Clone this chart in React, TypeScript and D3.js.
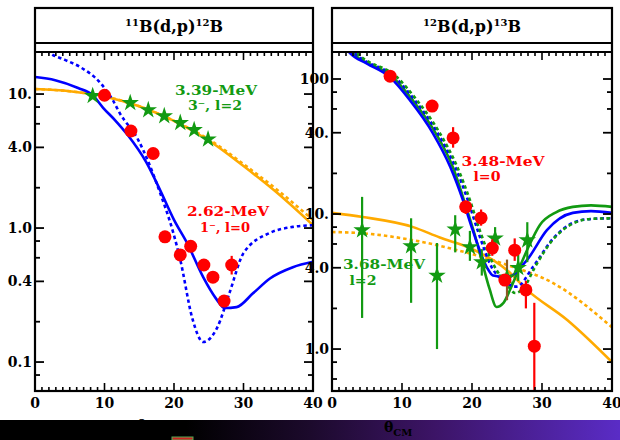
import * as d3 from "d3"

// ---- left panel: 11B(d,p)12B ----
const leftRedDeg = [10, 13.8, 17.0, 18.7, 20.9, 22.4, 24.3, 25.6, 27.2, 28.3]
const leftRedVal = [9.8, 5.3, 3.6, 0.86, 0.63, 0.73, 0.53, 0.43, 0.285, 0.53]
const leftRedLo = [9.8, 5.3, 3.6, 0.86, 0.63, 0.73, 0.53, 0.4, 0.27, 0.45]
const leftRedHi = [9.8, 5.3, 3.6, 0.86, 0.63, 0.73, 0.53, 0.43, 0.285, 0.62]

const leftGreenDeg = [8.3, 13.7, 16.3, 18.6, 20.9, 22.9, 24.9]
const leftGreenVal = [9.7, 8.6, 7.6, 6.85, 6.1, 5.4, 4.6]

const leftOrangeDeg = [0, 5, 10, 15, 20, 25, 30, 35, 40]
const leftOrangeSolid = [10.9, 10.5, 9.6, 8.1, 6.3, 4.5, 2.9, 1.8, 1.05]
const leftOrangeDotted = [10.9, 10.5, 9.6, 8.1, 6.3, 4.6, 3.0, 1.9, 1.15]

const leftBlueSolidDeg = [0, 2.9, 6.2, 8.3, 9.8, 11.5, 13.4, 16, 18, 20, 21.9, 24.2, 26, 27.3, 29, 31.4, 33.8, 37.1, 40]
const leftBlueSolidVal = [13.4, 12.7, 11.1, 9.8, 7.9, 6.4, 4.9, 3.1, 1.92, 1.15, 0.77, 0.43, 0.3, 0.253, 0.257, 0.327, 0.42, 0.51, 0.56]

const leftBlueDotDeg = [0.5, 2.2, 4.3, 6.5, 9.4, 11.2, 12.2, 14.8, 18, 19.9, 20.9, 22.7, 24.2, 26.2, 28, 30, 33.8, 37.1, 40]
const leftBlueDotVal = [25, 20.2, 18, 15.9, 12.1, 9.0, 7.2, 4.6, 1.83, 0.92, 0.58, 0.206, 0.141, 0.18, 0.33, 0.65, 0.92, 1.02, 1.05]

// ---- right panel: 12B(d,p)13B ----
const rightRedDeg = [8.3, 14.3, 17.3, 19.1, 21.3, 22.9, 24.7, 26.1, 27.7, 28.9]
const rightRedVal = [105, 63, 36.6, 11.3, 9.35, 5.6, 3.24, 5.4, 2.74, 1.05]
const rightRedLo = [105, 58, 31, 10, 8.2, 4.9, 3.0, 4.5, 2.0, 0.3]
const rightRedHi = [105, 70, 44, 12.5, 10.8, 6.5, 3.5, 6.6, 3.2, 2.2]

const rightGreenDeg = [4.3, 11.3, 15.0, 17.6, 19.7, 21.4, 23.3, 25.0, 26.6, 27.9]
const rightGreenVal = [7.6, 5.8, 3.5, 7.7, 5.7, 4.4, 6.6, 3.4, 4.0, 6.4]
const rightGreenLo = [1.7, 2.2, 1.0, 5.2, 4.5, 3.5, 5.3, 2.3, 3.2, 4.4]
const rightGreenHi = [13.4, 9.3, 6.1, 9.8, 7.5, 5.5, 8.0, 4.6, 5.0, 8.7]

const rightOrangeSolidDeg = [0, 4.4, 11.6, 15.4, 19.7, 25, 27.9, 33.6, 40]
const rightOrangeSolidVal = [10.2, 9.5, 8.0, 6.7, 5.6, 3.84, 2.73, 1.64, 0.8]
const rightOrangeDotDeg = [0, 4.4, 11.6, 17.9, 25, 31.6, 40]
const rightOrangeDotVal = [7.36, 7.2, 6.4, 5.4, 4.2, 3.08, 1.45]

const rightBlueSolidDeg = [1, 2.6, 5, 8.3, 11.1, 14.4, 16.9, 18.7, 20.1, 22.1, 23, 25, 27.9, 30.7, 34.4, 37, 40]
const rightBlueSolidVal = [200, 155, 130, 103, 70, 39.8, 22.3, 12.7, 7.6, 4.05, 3.5, 3.4, 4.6, 7.6, 10.2, 10.5, 10.2]
const rightBlueDotDeg = [1.5, 3.3, 9, 11.8, 15.1, 17.6, 19.4, 20.8, 22.8, 24.5, 26.4, 28.7, 31.5, 34.4, 37, 40]
const rightBlueDotVal = [200, 155, 103, 70, 39.8, 22.3, 12.7, 7.6, 4.05, 3.2, 2.9, 4.05, 6.5, 8.6, 9.2, 9.3]
const rightGreenSolidDeg = [1.2, 3, 8.7, 11.5, 14.8, 17.3, 19.0, 20.4, 21.5, 22.5, 23.5, 24.5, 25.5, 26.4, 28, 29.7, 32, 34.4, 37, 40]
const rightGreenSolidVal = [200, 155, 103, 70, 39.8, 22, 12, 7, 4.3, 2.8, 2.05, 2.2, 2.8, 3.6, 5.6, 8.3, 10.3, 11.3, 11.6, 11.3]
const rightGreenDotDeg = [1.8, 3.6, 9.3, 12.1, 15.4, 17.9, 19.7, 21.1, 23.1, 24.8, 26.2, 27.5, 29, 31.5, 34.4, 37, 40]
const rightGreenDotVal = [200, 155, 103, 70, 39.8, 22.3, 12.7, 7.6, 4.2, 3.1, 2.6, 2.9, 4.05, 6.4, 8.5, 9.2, 9.3]

// ---- ticks ----
const xMajor = [0, 10, 20, 30, 40]
const xMinor = d3.range(0, 41, 1)
const leftYMajor = [0.1, 0.4, 1, 4, 10]
const leftYLabels = ["0.1", "0.4", "1.0", "4.0", "10."]
const leftYMinor = [0.08, 0.2, 0.6, 0.8, 2, 6, 8]
const rightYMajor = [1, 4, 10, 40, 100]
const rightYLabels = ["1.0", "4.0", "10.", "40.", "100"]
const rightYMinor = [0.6, 0.8, 2, 6, 8, 20, 60, 80]

const RED = "#ff0000"
const GREEN = "#129a12"
const BLUE = "#0000ff"
const ORANGE = "#ffaa00"
const BROWN = "#8a5a22"
const FONT = "'DejaVu Serif', serif"

const TOP = 8
const HEAD = 43
const PTOP = 52
const PBOT = 391

const zip = (a: number[], b: number[]) => a.map((d, i) => [d, b[i]] as [number, number])

function Panel(props: any) {
  const { x, y, id, yMajor, yLabels, yMinor, title, curves, circles, stars, children } = props
  const [x0, x1] = x.range()
  const line = d3
    .line<[number, number]>()
    .x((d) => x(d[0]))
    .y((d) => y(d[1]))
    .curve(d3.curveMonotoneX)
  const star = d3.symbol(d3.symbolStar, 95)()
  return (
    <g>
      <defs>
        <clipPath id={id}>
          <rect x={x0} y={PTOP} width={x1 - x0} height={PBOT - PTOP} />
        </clipPath>
      </defs>
      <g clipPath={`url(#${id})`}>
        {curves.map((c: any, i: number) => (
          <path key={i} d={line(c.pts) || ""} fill="none" stroke={c.color} strokeWidth={2.6}
            strokeDasharray={c.dash ? "3.5,3" : undefined} />
        ))}
        {stars.map((s: any, i: number) => (
          <g key={"s" + i}>
            {s.lo !== undefined && (
              <line x1={x(s.d)} x2={x(s.d)} y1={y(s.lo)} y2={y(s.hi)} stroke={s.bar || GREEN} strokeWidth={2.2} />
            )}
            <path d={star || ""} transform={`translate(${x(s.d)},${y(s.v)})`} fill={GREEN} />
          </g>
        ))}
        {circles.map((c: any, i: number) => (
          <g key={"c" + i}>
            <line x1={x(c.d)} x2={x(c.d)} y1={y(c.lo)} y2={y(c.hi)} stroke={RED} strokeWidth={2.2} />
            <circle cx={x(c.d)} cy={y(c.v)} r={6.5} fill={RED} />
          </g>
        ))}
      </g>
      {/* frame */}
      <rect x={x0} y={TOP} width={x1 - x0} height={PBOT - TOP} fill="none" stroke="#000" strokeWidth={2.2} />
      <line x1={x0} x2={x1} y1={HEAD} y2={HEAD} stroke="#000" strokeWidth={2.2} />
      <line x1={x0} x2={x1} y1={PTOP} y2={PTOP} stroke="#000" strokeWidth={2.2} />
      {/* x ticks */}
      {xMinor.map((t) => {
        const len = xMajor.includes(t) ? 8 : 4
        return (
          <g key={"xt" + t}>
            <line x1={x(t)} x2={x(t)} y1={PBOT} y2={PBOT - len} stroke="#000" strokeWidth={1.6} />
            <line x1={x(t)} x2={x(t)} y1={PTOP} y2={PTOP + len} stroke="#000" strokeWidth={1.6} />
          </g>
        )
      })}
      {xMajor.map((t) => (
        <text key={"xl" + t} x={x(t)} y={408} textAnchor="middle" fontFamily={FONT} fontWeight="bold" fontSize={14}>
          {t}
        </text>
      ))}
      {/* y ticks */}
      {yMajor.map((t: number, i: number) => (
        <g key={"ym" + t}>
          <line x1={x0} x2={x0 + 9} y1={y(t)} y2={y(t)} stroke="#000" strokeWidth={1.8} />
          <line x1={x1} x2={x1 - 9} y1={y(t)} y2={y(t)} stroke="#000" strokeWidth={1.8} />
          <text x={x0 - 3} y={y(t) + 5} textAnchor="end" fontFamily={FONT} fontWeight="bold" fontSize={14}>
            {yLabels[i]}
          </text>
        </g>
      ))}
      {yMinor.map((t: number) => (
        <g key={"yn" + t}>
          <line x1={x0} x2={x0 + 5} y1={y(t)} y2={y(t)} stroke="#000" strokeWidth={1.8} />
          <line x1={x1} x2={x1 - 5} y1={y(t)} y2={y(t)} stroke="#000" strokeWidth={1.8} />
        </g>
      ))}
      <text x={(x0 + x1) / 2} y={32} textAnchor="middle" fontFamily={FONT} fontWeight="bold" fontSize={16}>
        <tspan fontSize={10} dy={-6}>{title[0]}</tspan>
        <tspan dy={6}>B(d,p)</tspan>
        <tspan fontSize={10} dy={-6}>{title[1]}</tspan>
        <tspan dy={6}>B</tspan>
      </text>
      {children}
    </g>
  )
}

function Label({ x, y, color, children, w }: any) {
  return (
    <text x={x} y={y} textAnchor="middle" fontFamily={FONT} fontWeight="bold" fontSize={13} fill={color}
      textLength={w} lengthAdjust="spacingAndGlyphs">
      {children}
    </text>
  )
}

export default function App() {
  const lx = d3.scaleLinear().domain([0, 40]).range([35, 313])
  const ly = d3.scaleLog().domain([0.0608, 20.6]).range([PBOT, PTOP])
  const rx = d3.scaleLinear().domain([0, 40]).range([332, 612])
  const ry = d3.scaleLog().domain([0.489, 158.5]).range([PBOT, PTOP])

  const leftCurves = [
    { pts: zip(leftOrangeDeg, leftOrangeDotted), color: ORANGE, dash: true },
    { pts: zip(leftOrangeDeg, leftOrangeSolid), color: ORANGE },
    { pts: zip(leftBlueDotDeg, leftBlueDotVal), color: BLUE, dash: true },
    { pts: zip(leftBlueSolidDeg, leftBlueSolidVal), color: BLUE },
  ]
  const leftCircles = leftRedDeg.map((d, i) => ({ d, v: leftRedVal[i], lo: leftRedLo[i], hi: leftRedHi[i] }))
  const leftStars = leftGreenDeg.map((d, i) => ({ d, v: leftGreenVal[i] }))

  const rightCurves = [
    { pts: zip(rightOrangeSolidDeg, rightOrangeSolidVal), color: ORANGE },
    { pts: zip(rightOrangeDotDeg, rightOrangeDotVal), color: ORANGE, dash: true },
    { pts: zip(rightGreenSolidDeg, rightGreenSolidVal), color: GREEN },
    { pts: zip(rightBlueSolidDeg, rightBlueSolidVal), color: BLUE },
    { pts: zip(rightBlueDotDeg, rightBlueDotVal), color: BLUE, dash: true },
    { pts: zip(rightGreenDotDeg, rightGreenDotVal), color: GREEN, dash: true },
  ]
  const rightCircles = rightRedDeg.map((d, i) => ({ d, v: rightRedVal[i], lo: rightRedLo[i], hi: rightRedHi[i] }))
  const rightStars = rightGreenDeg.map((d, i) => ({
    d, v: rightGreenVal[i], lo: rightGreenLo[i], hi: rightGreenHi[i], bar: d === 25.0 ? BROWN : GREEN,
  }))

  return (
    <svg width={620} height={440} style={{ position: "absolute", left: 0, top: 0, background: "#fff" }}>
      <defs>
        <linearGradient id="band" x1="0" x2="1" y1="0" y2="0">
          <stop offset="0" stopColor="#000" />
          <stop offset="0.3" stopColor="#000" />
          <stop offset="0.5" stopColor="#1c0a2c" />
          <stop offset="0.7" stopColor="#3c1466" />
          <stop offset="1" stopColor="#5a2cc6" />
        </linearGradient>
      </defs>
      <Panel x={lx} y={ly} id="clipL" yMajor={leftYMajor} yLabels={leftYLabels} yMinor={leftYMinor}
        title={["11", "12"]} curves={leftCurves} circles={leftCircles} stars={leftStars}>
        <Label x={216} y={95} color={GREEN} w={82}>3.39-MeV</Label>
        <Label x={215} y={110} color={GREEN} w={54}>3⁻, l=2</Label>
        <Label x={228} y={216} color={RED} w={82}>2.62-MeV</Label>
        <Label x={225} y={232} color={RED} w={50}>1⁻, l=0</Label>
      </Panel>
      <Panel x={rx} y={ry} id="clipR" yMajor={rightYMajor} yLabels={rightYLabels} yMinor={rightYMinor}
        title={["12", "13"]} curves={rightCurves} circles={rightCircles} stars={rightStars}>
        <Label x={503} y={166} color={RED} w={83}>3.48-MeV</Label>
        <Label x={487} y={181} color={RED} w={27}>l=0</Label>
        <Label x={384} y={269} color={GREEN} w={82}>3.68-MeV</Label>
        <Label x={363} y={285} color={GREEN} w={27}>l=2</Label>
      </Panel>
      <text x={137} y={430} fontFamily={FONT} fontWeight="bold" fontSize={14}>θ</text>
      <rect x={0} y={420} width={620} height={20} fill="url(#band)" />
      <text x={384} y={432} fontFamily={FONT} fontWeight="bold" fontSize={14} fill="#000">
        θ<tspan fontSize={10} dy={4}>CM</tspan>
      </text>
      <rect x={172} y={437} width={21} height={3} fill="#c22" stroke="#5a5" strokeWidth={1} />
    </svg>
  )
}
